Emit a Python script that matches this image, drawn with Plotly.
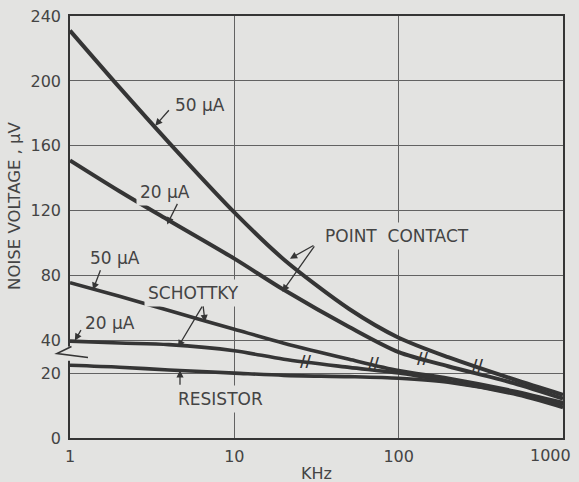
import numpy as np
import plotly.graph_objects as go

# ---- data ----
freq_khz = [1, 2, 4, 10, 20, 50, 100, 200, 500, 1000]
point_contact_50ua = [231, 196, 162, 119, 90, 59.5, 41.8, 29.8, 18.1, 13.3]
point_contact_20ua = [151, 132, 114, 90.5, 71.3, 48.4, 32.9, 24.2, 16.9, 12.1]
schottky_50ua = [75.7, 67.3, 58.5, 47.0, 38.4, 28.5, 21.5, 18.4, 14.5, 10.9]
schottky_20ua = [39.7, 38.5, 37.5, 33.8, 28.5, 23.5, 20.0, 17.5, 13.9, 10.3]
resistor = [24.8, 23.6, 21.9, 20.0, 19.3, 18.9, 18.4, 17.2, 13.6, 9.4]

y_tick_values = [0, 20, 40, 80, 120, 160, 200, 240]
x_tick_values = [1, 10, 100, 1000]
x_tick_labels = ["1", "10", "100", "1000"]

# break marks on curves (freq kHz, value uV)
break_freq = [300, 139, 70, 27]
break_vals = [24.6, 28.8, 25.5, 26.9]

BG = "#e3e3e1"
INK = "#353535"
GRID = "#626262"
TXT = "#444444"
FONT = "DejaVu Sans"


def axis_pos(v):
    """Broken y axis: the 0-20 band is drawn at twice the scale of 20-240."""
    v = np.asarray(v, dtype=float)
    return np.where(v <= 20, 2 * v, v + 20)


fig = go.Figure()

series = [
    (point_contact_50ua, 4.0),
    (point_contact_20ua, 4.0),
    (schottky_50ua, 3.6),
    (schottky_20ua, 3.6),
    (resistor, 3.6),
]
for vals, w in series:
    fig.add_trace(go.Scatter(
        x=freq_khz, y=axis_pos(vals), mode="lines",
        line=dict(color=INK, width=w, shape="spline", smoothing=0.8),
        showlegend=False, hoverinfo="skip"))

annotations = []

# break marks
for f, v in zip(break_freq, break_vals):
    annotations.append(dict(x=np.log10(f), y=float(axis_pos(v)), xref="x", yref="y",
                            text="<b>//</b>", showarrow=False,
                            font=dict(family=FONT, size=15, color=INK)))

# labels (text, freq, value)
labels = [
    ("50 \u03bcA", 6.19, 185.4),
    ("20 \u03bcA", 3.79, 131.5),
    ("50 \u03bcA", 1.88, 91.2),
    ("SCHOTTKY", 5.62, 69.5),
    ("20 \u03bcA", 1.75, 50.9),
    ("RESISTOR", 8.19, 12.1),
    ("POINT\u00a0\u00a0CONTACT", 97.8, 104.5),
]
for t, f, v in labels:
    annotations.append(dict(x=np.log10(f), y=float(axis_pos(v)), xref="x", yref="y",
                            text=t, showarrow=False, bgcolor=BG, borderpad=3,
                            font=dict(family=FONT, size=17, color=TXT)))

# arrows (tip freq, tip value, tail dx, tail dy)
arrows = [
    (3.3, 172.4, 15, -17),
    (3.9, 111.6, 11, -22),
    (1.38, 71.3, 8, -21),
    (6.63, 51.5, -2, -17),
    (4.54, 36.0, 25, -42),
    (1.07, 40.0, 7, -12),
    (4.67, 21.7, 0, 16),
    (21.8, 90.5, 25, -14),
    (19.6, 70.1, 33, -47),
]
for f, v, dx, dy in arrows:
    annotations.append(dict(x=np.log10(f), y=float(axis_pos(v)), xref="x", yref="y",
                            text="", showarrow=True, ax=dx, ay=dy,
                            arrowhead=2, arrowsize=1.1, arrowwidth=1.3,
                            arrowcolor=INK))

# last x tick label, kept inside the page like in the reference
annotations.append(dict(x=np.log10(x_tick_values[-1]), y=-0.042, xref="x", yref="paper",
                        xanchor="right", yanchor="middle", xshift=10,
                        text=x_tick_labels[-1], showarrow=False,
                        font=dict(family=FONT, size=16, color=TXT)))

# axis titles
annotations.append(dict(x=-0.1116, y=0.55, xref="paper", yref="paper",
                        xanchor="center", yanchor="middle",
                        text="NOISE VOLTAGE , \u03bcV", textangle=-90, showarrow=False,
                        font=dict(family=FONT, size=16.5, color=TXT)))
annotations.append(dict(x=0.5, y=-0.0845, xref="paper", yref="paper",
                        xanchor="center", yanchor="middle",
                        text="KHz", showarrow=False,
                        font=dict(family=FONT, size=16, color=TXT)))

shapes = [
    # mask the axis line at the break
    dict(type="line", xref="paper", yref="paper", x0=0, x1=0, y0=0.183, y1=0.2166,
         line=dict(color=BG, width=5)),
    dict(type="path", xref="paper", yref="paper",
         path="M 0.003 0.2166 L -0.0264 0.2001 L 0.0365 0.1906",
         line=dict(color=INK, width=1.6)),
]

fig.update_layout(
    width=579, height=482,
    margin=dict(l=70, r=16, t=16, b=44, autoexpand=False),
    paper_bgcolor=BG, plot_bgcolor=BG,
    annotations=annotations, shapes=shapes,
    font=dict(family=FONT, color=TXT),
)
fig.update_xaxes(
    type="log", range=[0, 3], automargin=False,
    tickvals=x_tick_values, ticktext=x_tick_labels[:-1] + [""],
    showgrid=True, gridcolor=GRID, gridwidth=1.3,
    showline=True, linecolor=INK, linewidth=1.6, mirror=True,
    ticks="", ticklen=0, tickfont=dict(family=FONT, size=16, color=TXT),
    ticklabelstandoff=3, zeroline=False,
)
fig.update_yaxes(
    range=[0, 260], automargin=False,
    tickvals=axis_pos(y_tick_values), ticktext=[str(v) for v in y_tick_values],
    showgrid=True, gridcolor=GRID, gridwidth=1.3,
    showline=True, linecolor=INK, linewidth=1.6, mirror=True,
    ticks="", ticklen=0, tickfont=dict(family=FONT, size=16, color=TXT),
    ticklabelstandoff=4, zeroline=False,
)

fig.write_html("out.html", config={"displayModeBar": False},
               post_script="document.body.style.margin='0';document.body.style.padding='0';")
